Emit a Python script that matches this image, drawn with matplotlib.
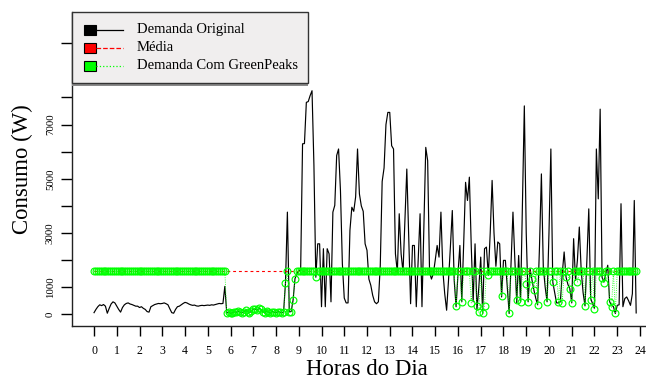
import numpy as np
import matplotlib
matplotlib.use("Agg")
import matplotlib.pyplot as plt
from matplotlib.patches import Rectangle
from matplotlib.lines import Line2D

plt.rcParams['font.family'] = ['Liberation Serif', 'DejaVu Serif']

# Household demand sampled every 5 minutes over one day (W)
demanda_original = [
    # 00:00 - 05:45
    60, 180, 280, 350, 320, 360, 300, 40, 220, 380, 460, 420,
    300, 180, 80, 250, 350, 400, 420, 380, 360, 330, 300, 300,
    250, 280, 220, 180, 100, 80, 280, 320, 360, 380, 400, 390,
    400, 420, 390, 350, 200, 60, 40, 180, 280, 300, 350, 400,
    440, 420, 380, 350, 330, 340, 310, 300, 320, 330, 320, 330,
    340, 330, 350, 340, 360, 380, 400, 390, 400, 1030,
    # 05:50 - 08:20
    50, 80, 30, 60, 100, 70, 120, 80, 50, 100, 140, 100,
    60, 120, 180, 200, 150, 220, 180, 100, 60, 120, 80, 50,
    100, 80, 60, 100, 80, 50,
    # 08:20 - 12:55
    90, 1160, 3770, 90, 100, 520, 1310, 1500, 1600, 1650, 6290, 6300,
    7820, 7850, 8070, 8250, 5500, 1370, 2600, 2600, 280, 2420, 280, 2420,
    2230, 460, 3770, 4020, 5860, 6100, 4560, 1870, 600, 420, 420, 3100,
    3950, 3800, 4330, 6100, 4440, 4000, 3800, 2600, 2360, 1300, 1070, 700,
    460, 390, 460, 1800, 4900, 5400, 7000, 7450,
    # 13:00 - 23:50
    7450, 6220, 6100, 2230, 1560, 3710, 2230, 1560, 3500, 5360, 2850, 390,
    2540, 2540, 280, 2000, 3710, 280, 3200, 6160, 5670, 1560, 1300, 1500,
    2000, 2540, 2110, 3770, 1620, 760, 150, 1250, 2500, 3830, 1250, 280,
    1500, 2540, 460, 2600, 4870, 4200, 5060, 2500, 460, 2600, 150, 1000,
    2110, 30, 2420, 2480, 1440, 3000, 4940, 3000, 1770, 2670, 2600, 640,
    1990, 1990, 1000, 30, 1900, 3770, 2000, 420, 2170, 460, 4000, 7690,
    3000, 460, 1690, 1280, 910, 600, 350, 2500, 5180, 1750, 1000, 460,
    3000, 6100, 1190, 800, 420, 420, 460, 1500, 2300, 1370, 1100, 940,
    420, 2790, 1250, 2000, 3220, 1620, 800, 310, 2000, 3890, 580, 400,
    210, 6100, 4260, 7570, 1370, 1190, 1500, 1810, 460, 350, 280, 30,
    330, 350, 4080, 280, 580, 640, 500, 330, 760, 4200, 50,
]

# Mean of the original demand (W)
media = 1590

# Demand with GreenPeaks: mean level, except the stretch 05:50-08:50
# and the isolated slots listed below
greenpeaks_inicio = 70
greenpeaks_trecho = [
    50, 80, 30, 60, 100, 70, 120, 80, 50, 100, 140, 100,
    60, 120, 180, 200, 150, 220, 180, 100, 60, 120, 80, 50,
    100, 80, 60, 100, 80, 50, 90, 1160, 1590, 90, 100, 520, 1310,
]
greenpeaks_slots = [117, 191, 194, 199, 202, 203, 205, 206, 208, 215, 219,
                    223, 225, 228, 229, 231, 232, 234, 239, 242, 245, 247,
                    249, 251, 252, 255, 259, 262, 264, 268, 269, 272, 273,
                    275]
greenpeaks_valores = [1370, 300, 460, 420, 310, 80, 30, 310, 1440, 670, 30,
                      520, 460, 1130, 460, 1290, 910, 350, 460, 1190, 460,
                      420, 1370, 940, 420, 1190, 310, 520, 210, 1340, 1160,
                      460, 260, 30]

y_ticks = [0, 1000, 2000, 3000, 4000, 5000, 6000, 7000, 8000, 10000]
y_labels = ['0', '1000', '', '3000', '', '5000', '', '7000', '', '']
x_ticks = list(range(25))

n = len(demanda_original)
horas = np.arange(n) / 12.0

green = np.full(n, float(media))
green[greenpeaks_inicio:greenpeaks_inicio + len(greenpeaks_trecho)] = greenpeaks_trecho
green[greenpeaks_slots] = greenpeaks_valores

W, H = 646, 379
fig = plt.figure(figsize=(W / 100, H / 100), dpi=100)
x_left, x_right = 72.2, 661.8
y_top, y_bot = 11.7, 326.0
ax = fig.add_axes([x_left / W, 1 - y_bot / H, (x_right - x_left) / W, (y_bot - y_top) / H])
ax.patch.set_alpha(0)

ax.plot(horas, demanda_original, color='black', lw=0.85, zorder=2)
ax.plot(horas, np.full(n, media), color='#FF0000', lw=0.8, dashes=(2.6, 2.6), zorder=3)
ax.plot(horas, green, color='#00FF00', lw=0.6, ls=':', marker='o', ms=4.9,
        mfc='none', mec='#00FF00', mew=0.85, zorder=4)

ax.set_xlim(-0.96, 24.96)
ax.set_ylim(-432, 11166)
for s in ('top', 'right'):
    ax.spines[s].set_visible(False)
for s in ('left', 'bottom'):
    ax.spines[s].set_linewidth(1.0)
    ax.spines[s].set_color('#222222')

ax.set_xticks(x_ticks)
ax.set_xticklabels([str(h) for h in x_ticks])
ax.set_yticks(y_ticks)
ax.set_yticklabels(y_labels, rotation=90, va='center')
ax.tick_params(axis='x', length=7, width=1.0, pad=7, labelsize=8.6)
ax.tick_params(axis='y', length=8, width=1.0, pad=4.5, labelsize=7.8)

fig.text(367 / W, 1 - 375 / H, 'Horas do Dia', ha='center', va='baseline', fontsize=16.4)
fig.text(22 / W, 1 - 169 / H, 'Consumo (W)', ha='center', va='center',
         rotation=90, fontsize=16.4)

# Legend box in pixel units
lg = fig.add_axes([0, 0, 1, 1], zorder=5)
lg.set_xlim(0, W)
lg.set_ylim(H, 0)
lg.axis('off')
lg.patch.set_alpha(0)
bx, by, bw, bh = 71.7, 11.7, 236.0, 71.6
lg.add_patch(Rectangle((bx, by + 3), bw, bh, facecolor='#8a8a8a', edgecolor='none'))
lg.add_patch(Rectangle((bx, by), bw, bh, facecolor='#F0EEEE', edgecolor='#333333', lw=1.0))
entradas = [('Demanda Original', 'black', '-'),
            ('Média', '#FF0000', '--'),
            ('Demanda Com GreenPeaks', '#00FF00', ':')]
for k, (txt, cor, estilo) in enumerate(entradas):
    yy = 29.5 + 18 * k
    lg.add_line(Line2D([95.7, 122.7], [yy, yy], color=cor, ls=estilo, lw=0.9))
    lg.add_patch(Rectangle((84.3, yy - 5), 11.4, 10, facecolor=cor, edgecolor='black', lw=0.8))
    lg.text(136.7, yy, txt, va='center', ha='left', fontsize=10.5)

fig.savefig('out.png', dpi=100)
